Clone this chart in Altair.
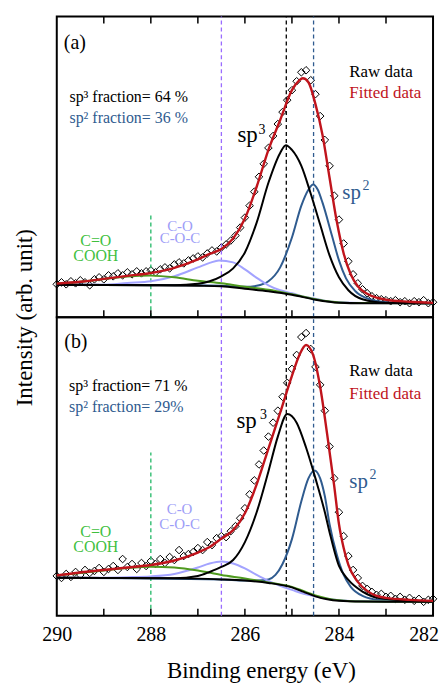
import altair as alt
import pandas as pd

FONT = "Liberation Serif"
RED = "#c0141c"
BLUE = "#2f5b8f"
LAV = "#a3a3ff"
LAV_TXT = "#9d9df7"
GREEN_LINE = "#4f9a1f"
GREEN_TXT = "#3fbf3f"
GREEN_DASH = "#20b865"
PURPLE_DASH = "#9a6cff"

# ---------------- data (binding energy in eV, intensity in arb. units) ----------------
RAW_E = [290.0, 289.9, 289.8, 289.7, 289.6, 289.5, 289.4, 289.3, 289.2, 289.1,
         289.0, 288.9, 288.8, 288.7, 288.6, 288.5, 288.4, 288.3, 288.2, 288.1,
         288.0, 287.9, 287.8, 287.7, 287.6, 287.5, 287.4, 287.3, 287.2, 287.1,
         287.0, 286.9, 286.8, 286.7, 286.6, 286.5, 286.4, 286.3, 286.2, 286.1,
         286.0, 285.9, 285.8, 285.7, 285.6, 285.5, 285.4, 285.3, 285.2, 285.1,
         285.0, 284.9, 284.8, 284.7, 284.6, 284.5, 284.4, 284.3, 284.2, 284.1,
         284.0, 283.9, 283.8, 283.7, 283.6, 283.5, 283.4, 283.3, 283.2, 283.1,
         283.0, 282.9, 282.8, 282.7, 282.6, 282.5, 282.4, 282.3, 282.2, 282.1, 282.0]

A_RAW = [33, 35, 33, 36, 34, 37, 35, 32, 38, 40,
         38, 42, 41, 44, 42, 45, 43, 46, 44, 46,
         47, 45, 48, 50, 49, 53, 55, 54, 57, 59,
         61, 60, 64, 67, 66, 70, 73, 77, 82, 90,
         100, 112, 126, 141, 154, 170, 182, 194, 206, 218,
         228, 237, 246, 248, 238, 224, 202, 178, 152, 122,
         98, 74, 56, 43, 34, 28, 24, 21, 19, 18,
         17, 16, 17, 15, 16, 14, 16, 15, 17, 14, 15]

B_RAW = [40, 38, 42, 39, 44, 41, 46, 43, 45, 48,
         44, 47, 50, 46, 57, 49, 52, 47, 53, 50,
         55, 52, 57, 53, 59, 56, 66, 60, 62, 64,
         68, 66, 74, 71, 78, 80, 79, 85, 90, 98,
         108, 122, 136, 152, 166, 180, 194, 206, 220, 234,
         248, 262, 280, 284, 268, 250, 232, 206, 170, 138,
         104, 80, 60, 46, 38, 30, 27, 24, 21, 22,
         19, 20, 17, 19, 16, 18, 15, 17, 14, 16, 17]

# panel (a) fitted curves
A_FIT_E = [290, 289.5, 289, 288.5, 288, 287.5, 287, 286.75, 286.5, 286.25, 286, 285.75, 285.5,
           285.25, 285.0, 284.85, 284.77, 284.65, 284.5, 284.35, 284.2, 284.05, 283.9, 283.75,
           283.6, 283.4, 283.2, 283.0, 282.5, 282.0]
A_FIT = [33.7, 35.5, 38.5, 41.5, 44.3, 49.5, 58, 63.5, 68.5, 79, 99, 131, 168,
         198, 228, 237.5, 240, 236, 214, 183, 140, 97, 64, 43,
         31, 23.5, 19.5, 17.5, 15.5, 14.3]
A_SP3_E = [290, 288, 287.5, 287, 286.75, 286.5, 286.25, 286, 285.75, 285.5, 285.25, 285.13,
           285.0, 284.8, 284.6, 284.4, 284.2, 284.0, 283.8, 283.5, 283.0, 282.0]
A_SP3 = [32.5, 32, 32, 33.5, 36, 41, 49, 65, 95, 135, 165, 172.7,
         168, 152, 124, 93, 62, 40, 27, 18, 14.5, 14]
A_SP2_E = [290, 287, 286.5, 286, 285.75, 285.5, 285.25, 285.0, 284.8, 284.65, 284.55, 284.45,
           284.35, 284.15, 284.0, 283.85, 283.65, 283.35, 283.0, 282.0]
A_SP2 = [32.5, 32, 31.5, 30.5, 31.5, 36, 50, 80, 112, 128, 133.3, 128,
         115, 82, 57, 39, 26, 18, 15, 14]
A_CO_E = [290, 289, 288.5, 288, 287.5, 287, 286.75, 286.55, 286.25, 286, 285.75, 285.5,
          285.25, 285, 284.75, 284.5, 284.25, 284, 283.5, 282]
A_CO = [32.5, 32.5, 34.3, 36, 41, 50, 54.5, 57, 55, 48, 39.5, 32,
        27, 24, 20.5, 18.5, 16, 15, 14.2, 14]
A_COOH_E = [290, 289.5, 289, 288.5, 288, 287.5, 287, 286.5, 286, 285.5, 285, 284.5, 284, 283.5, 282]
A_COOH = [33.5, 35.5, 38.3, 40.8, 41.7, 40, 36.5, 34, 30.5, 27.5, 23, 18, 14.8, 14.2, 14]
A_BG_E = [290, 289, 288, 287, 286.5, 286, 285.5, 285, 284.5, 284, 283.5, 282]
A_BG = [32.5, 32.3, 32, 31.5, 31, 28.5, 26, 22.5, 17.5, 14.5, 14, 14]

# panel (b) fitted curves
B_FIT_E = [290, 289.5, 289, 288.5, 288, 287.5, 287, 286.75, 286.5, 286.25, 286, 285.75, 285.5,
           285.25, 285.0, 284.85, 284.7, 284.55, 284.4, 284.25, 284.1, 284.0, 283.9, 283.8,
           283.6, 283.4, 283.2, 283.0, 282.5, 282.0]
B_FIT = [40.5, 43.5, 46, 48.5, 51, 55.5, 63.5, 69, 77.5, 86, 103, 132, 168,
         204, 241, 261, 272, 262, 230, 182, 130, 92, 68, 51,
         34, 25, 20, 18, 16, 15]
B_SP3_E = [290, 288, 287.5, 287, 286.75, 286.5, 286.25, 286, 285.75, 285.5, 285.3, 285.1,
           284.9, 284.7, 284.5, 284.3, 284.2, 284.0, 283.8, 283.5, 283.15, 282.5, 282]
B_SP3 = [38.3, 37.8, 37.8, 40, 44, 49, 56, 74, 104, 145, 180, 202.7,
         194, 169, 138, 104, 84, 50, 36, 24.3, 17.7, 15, 14.5]
B_SP2_E = [290, 286.5, 286, 285.75, 285.5, 285.35, 285.2, 285.0, 284.8, 284.65, 284.52, 284.4,
           284.3, 284.2, 284.05, 283.9, 283.75, 283.5, 283.15, 282.5, 282]
B_SP2 = [38.3, 36.5, 35.5, 35.5, 36.5, 41, 52, 77, 115, 138, 146, 138,
         120, 92, 62, 41, 29, 20, 16, 15, 14.5]
B_CO_E = [290, 289, 288.5, 288, 287.5, 287, 286.75, 286.5, 286.25, 286, 285.75, 285.5,
          285.25, 285, 284.75, 284.5, 284.25, 284, 283.5, 282]
B_CO = [38.3, 38.3, 38.7, 39.5, 42, 48.5, 52.5, 54.5, 52.5, 47.5, 41, 35,
        30, 26, 22, 19.5, 17, 15.5, 14.5, 14]
B_COOH_E = [290, 289.5, 289, 288.5, 288, 287.5, 287, 286.5, 286, 285.5, 285, 284.5, 284, 283.5, 282]
B_COOH = [40.5, 43, 45.5, 48, 49.3, 48.5, 45.5, 41, 37.5, 33.5, 29, 20.5, 15.5, 14.2, 14]
B_BG_E = [290, 289, 288, 287, 286.5, 286, 285.5, 285, 284.75, 284.5, 284.25, 284, 283.5, 283, 282]
B_BG = [38.3, 38, 37.7, 37.3, 36.5, 35.3, 33, 28.5, 24, 19.5, 16.5, 15, 14.2, 14, 14]

# peak positions (dashed guides)
PEAK_COOH = 288.0
PEAK_CO = 286.5
PEAK_SP3 = 285.12
PEAK_SP2 = 284.54
A_COOH_TOP = 103
B_COOH_TOP = 164

X_LABELS = [290, 288, 286, 284]
LAST_LABEL = 282
MINOR_TICKS = [289, 288, 287, 286, 285, 284, 283]

A_H = 302
B_H = 300
W = 378


def panel(H, raw, fit_e, fit, sp3_e, sp3, sp2_e, sp2, co_e, co, cooh_e, cooh, bg_e, bg,
          cooh_top, texts, bottom_axis, y_title, top_ticks):
    xs = alt.Scale(domain=[282, 290], reverse=True, nice=False, zero=False)
    ys = alt.Scale(domain=[0, H], nice=False, zero=False)

    if bottom_axis:
        xaxis = alt.Axis(values=X_LABELS, format="d", labelFont=FONT, labelFontSize=20,
                         labelColor="black", labelFlush=False, labelPadding=9, ticks=False,
                         domain=False, grid=False, title="Binding energy (eV)",
                         titleFont=FONT, titleFontSize=23, titleFontWeight="normal",
                         titleColor="black", titleX=205, titleY=62, titleAlign="center",
                         titleBaseline="alphabetic")
    else:
        xaxis = None
    if y_title:
        yaxis = alt.Axis(title="Intensity (arb. unit)", labels=False, ticks=False,
                         domain=False, grid=False, titleFont=FONT, titleFontSize=23,
                         titleFontWeight="normal", titleColor="black", titleAngle=270,
                         titleX=-25, titleY=H, titleAlign="center",
                         titleBaseline="alphabetic")
    else:
        yaxis = None

    def X(field="E:Q"):
        return alt.X(field, scale=xs, axis=xaxis)

    def Y(field="I:Q"):
        return alt.Y(field, scale=ys, axis=yaxis)

    raw_df = pd.DataFrame({"E": RAW_E, "I": raw})
    layers = [
        alt.Chart(raw_df).mark_point(shape="diamond", filled=False, color="black",
                                     size=58, strokeWidth=1, opacity=1).encode(x=X(), y=Y())
    ]

    def line(E, I, color, width=2.0):
        df = pd.DataFrame({"E": E, "I": I})
        return alt.Chart(df).mark_line(color=color, strokeWidth=width,
                                       interpolate="monotone").encode(x=X(), y=Y())

    def vline(E, top, color):
        df = pd.DataFrame({"E": [E], "I": [0], "I2": [top]})
        return alt.Chart(df).mark_rule(color=color, strokeWidth=1.3,
                                       strokeDash=[4, 3]).encode(x=X(), y=Y(), y2="I2:Q")

    layers += [
        vline(PEAK_COOH, cooh_top, GREEN_DASH),
        vline(PEAK_CO, H, PURPLE_DASH),
        vline(PEAK_SP3, H, "black"),
        vline(PEAK_SP2, H, BLUE),
        line(sp2_e, sp2, BLUE),
        line(co_e, co, LAV),
        line(cooh_e, cooh, GREEN_LINE),
        line(sp3_e, sp3, "black"),
        line(bg_e, bg, "black"),
        line(fit_e, fit, RED, 2.4),
    ]

    tick_df = pd.DataFrame({"E": MINOR_TICKS})
    layers.append(alt.Chart(tick_df).mark_rule(color="black", strokeWidth=1.5).encode(
        x=X(), y=alt.value(H - 7), y2=alt.value(H)))
    if top_ticks:
        layers.append(alt.Chart(tick_df).mark_rule(color="black", strokeWidth=1.5).encode(
            x=X(), y=alt.value(0), y2=alt.value(7)))
    if y_title:
        # invisible guide fixing the left edge of the figure's layout box
        layers.append(alt.Chart(pd.DataFrame({"E": [290]})).mark_rule(
            opacity=0, strokeWidth=1).encode(x=alt.value(-48), y=alt.value(0),
                                             y2=alt.value(10)))
    if bottom_axis:
        layers.append(alt.Chart(pd.DataFrame({"E": [LAST_LABEL], "t": [str(LAST_LABEL)]}))
                      .mark_text(font=FONT, fontSize=20, color="black", align="right",
                                 baseline="top", dx=6)
                      .encode(x=X(), y=alt.value(H + 9), text="t:N"))

    for (E, I, t, size, color, align) in texts:
        df = pd.DataFrame({"E": [E], "I": [I], "t": [t]})
        layers.append(alt.Chart(df).mark_text(font=FONT, fontSize=size, color=color,
                                              align=align, baseline="alphabetic").encode(
            x=X(), y=Y(), text="t:N"))

    return alt.layer(*layers).properties(width=W, height=H)


A_TEXTS = [
    (289.85, 269, "(a)", 20, "black", "left"),
    (289.73, 216, "sp³ fraction= 64 %", 16, "black", "left"),
    (289.73, 195, "sp² fraction= 36 %", 16, BLUE, "left"),
    (283.78, 241, "Raw data", 17, "black", "left"),
    (283.78, 220, "Fitted data", 17, RED, "left"),
    (286.16, 176, "sp", 23, "black", "left"),
    (285.71, 184, "3", 14, "black", "left"),
    (283.93, 119, "sp", 21, BLUE, "left"),
    (283.5, 128, "2", 14, BLUE, "left"),
    (287.38, 86.7, "C-O", 15, LAV_TXT, "center"),
    (287.38, 74.3, "C-O-C", 15, LAV_TXT, "center"),
    (289.17, 71, "C=O", 16, GREEN_TXT, "center"),
    (289.17, 56.7, "COOH", 16, GREEN_TXT, "center"),
]

B_TEXTS = [
    (289.84, 269, "(b)", 20, "black", "left"),
    (289.74, 226, "sp³ fraction= 71 %", 16, "black", "left"),
    (289.74, 205, "sp² fraction= 29%", 16, BLUE, "left"),
    (283.78, 241, "Raw data", 17, "black", "left"),
    (283.78, 218, "Fitted data", 17, RED, "left"),
    (286.18, 189, "sp", 23, "black", "left"),
    (285.68, 198, "3", 14, "black", "left"),
    (283.78, 128, "sp", 21, BLUE, "left"),
    (283.35, 137, "2", 14, BLUE, "left"),
    (287.39, 102, "C-O", 15, LAV_TXT, "center"),
    (287.39, 87, "C-O-C", 15, LAV_TXT, "center"),
    (289.17, 79, "C=O", 16, GREEN_TXT, "center"),
    (289.17, 63.7, "COOH", 16, GREEN_TXT, "center"),
]

top = panel(A_H, A_RAW, A_FIT_E, A_FIT, A_SP3_E, A_SP3, A_SP2_E, A_SP2, A_CO_E, A_CO,
            A_COOH_E, A_COOH, A_BG_E, A_BG, A_COOH_TOP, A_TEXTS,
            bottom_axis=False, y_title=True, top_ticks=True)
bottom = panel(B_H, B_RAW, B_FIT_E, B_FIT, B_SP3_E, B_SP3, B_SP2_E, B_SP2, B_CO_E, B_CO,
               B_COOH_E, B_COOH, B_BG_E, B_BG, B_COOH_TOP, B_TEXTS,
               bottom_axis=True, y_title=False, top_ticks=False)

chart = alt.vconcat(top, bottom, spacing=0, bounds="flush").properties(
    padding={"left": 0, "top": 5, "right": 0, "bottom": 0}, background="white"
).configure_view(stroke="black", strokeWidth=2)

chart.save("out.html", embed_options={"renderer": "svg", "actions": False})
